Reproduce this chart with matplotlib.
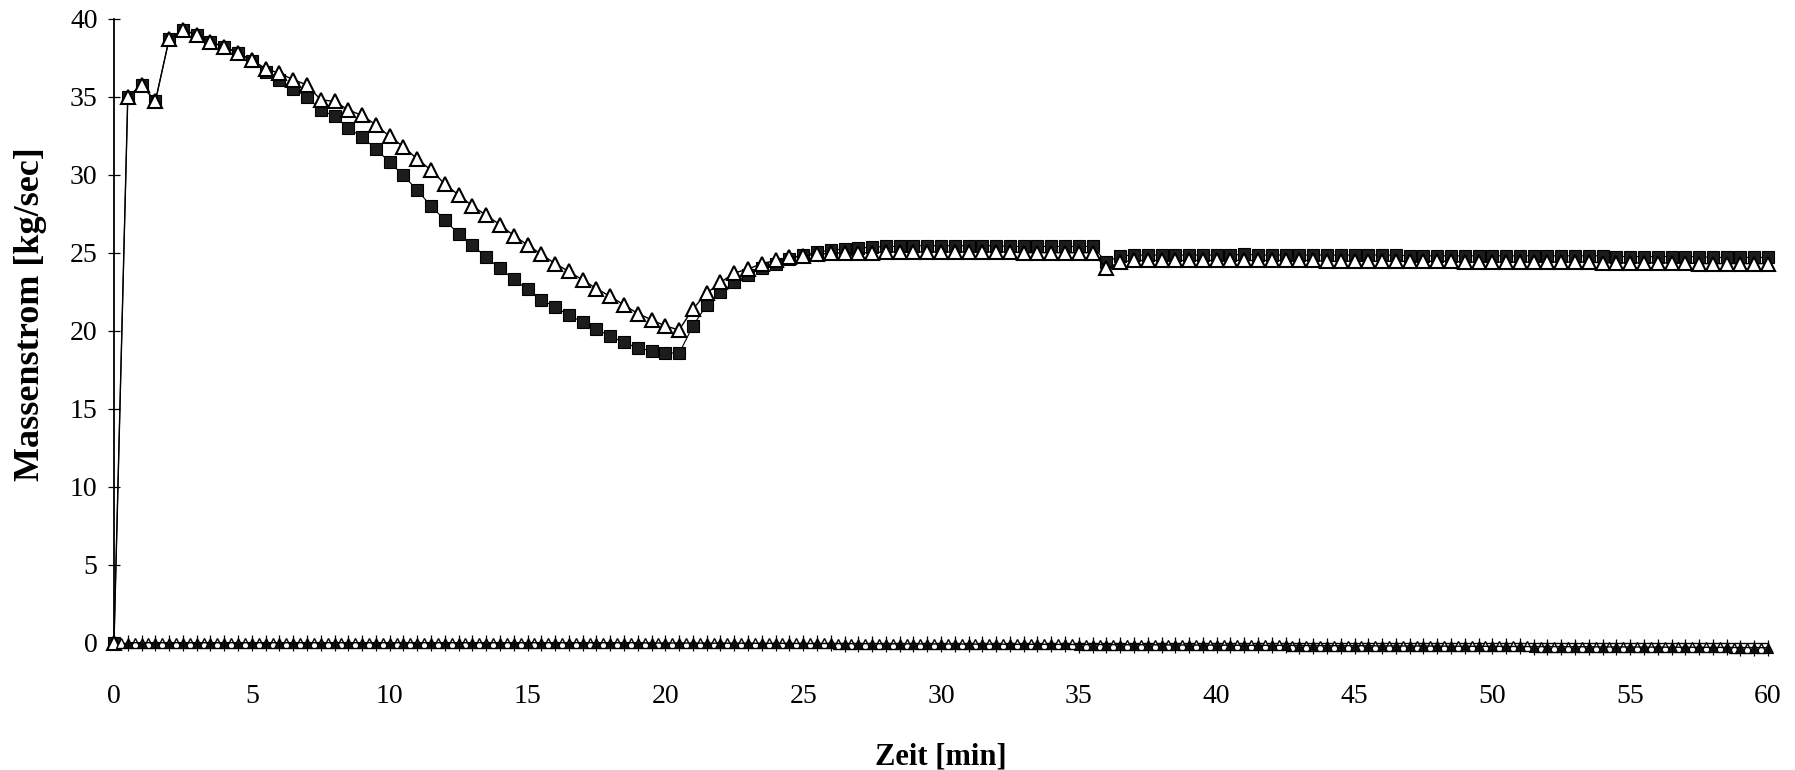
import numpy as np
import matplotlib
matplotlib.use("Agg")
import matplotlib.pyplot as plt

# Time grid in minutes (half-minute sampling)
zeit = np.arange(121) * 0.5

# Mass flow, first measurement series (filled squares)
massenstrom_a = [
    0.0, 35.0, 35.75, 34.7, 38.7, 39.3, 38.95, 38.5, 38.2, 37.8,
    37.3, 36.6, 36.1, 35.5, 35.0, 34.15, 33.75, 33.0, 32.4, 31.65,
    30.8, 29.95, 29.0, 28.0, 27.1, 26.2, 25.5, 24.7, 24.0, 23.3,
    22.65, 22.0, 21.5, 21.0, 20.55, 20.1, 19.65, 19.25, 18.9, 18.7,
    18.6, 18.55, 20.3, 21.65, 22.45, 23.1, 23.6, 24.0, 24.3, 24.6,
    24.85, 25.05, 25.15, 25.25, 25.3, 25.35, 25.4, 25.4, 25.45, 25.45,
    25.45, 25.45, 25.45, 25.45, 25.45, 25.4, 25.4, 25.4, 25.4, 25.4,
    25.4, 25.4, 24.4, 24.8, 24.85, 24.85, 24.85, 24.85, 24.85, 24.85,
    24.85, 24.85, 24.9, 24.85, 24.85, 24.85, 24.85, 24.85, 24.85, 24.85,
    24.85, 24.85, 24.85, 24.85, 24.8, 24.8, 24.8, 24.8, 24.8, 24.8,
    24.8, 24.8, 24.8, 24.8, 24.8, 24.8, 24.8, 24.8, 24.8, 24.75,
    24.75, 24.75, 24.75, 24.75, 24.75, 24.75, 24.7, 24.7, 24.7, 24.7,
    24.7,
]

# Mass flow, second measurement series (open triangles)
massenstrom_b = [
    0.0, 35.0, 35.75, 34.7, 38.7, 39.3, 38.95, 38.5, 38.2, 37.8,
    37.35, 36.8, 36.5, 36.1, 35.75, 34.8, 34.7, 34.15, 33.8, 33.2,
    32.45, 31.8, 31.0, 30.3, 29.4, 28.7, 28.0, 27.4, 26.8, 26.1,
    25.5, 24.9, 24.3, 23.8, 23.25, 22.7, 22.2, 21.65, 21.1, 20.7,
    20.3, 20.05, 21.4, 22.4, 23.1, 23.7, 23.95, 24.3, 24.5, 24.7,
    24.8, 24.9, 24.95, 25.0, 25.0, 25.0, 25.05, 25.05, 25.05, 25.05,
    25.05, 25.05, 25.05, 25.05, 25.05, 25.05, 25.0, 25.0, 25.0, 25.0,
    25.0, 25.0, 24.0, 24.4, 24.5, 24.5, 24.5, 24.5, 24.5, 24.5,
    24.5, 24.5, 24.5, 24.5, 24.5, 24.5, 24.5, 24.5, 24.45, 24.45,
    24.45, 24.45, 24.45, 24.45, 24.45, 24.45, 24.45, 24.45, 24.4, 24.4,
    24.4, 24.4, 24.4, 24.4, 24.4, 24.4, 24.4, 24.4, 24.35, 24.35,
    24.35, 24.35, 24.35, 24.35, 24.35, 24.3, 24.3, 24.3, 24.3, 24.3,
    24.3,
]

# Near-zero series (filled triangles at full half-minutes)
zeit_c = zeit[1:]
massenstrom_c = [
    0.0, 0.0, 0.0, 0.0, 0.0, 0.0, 0.0, 0.0, 0.0, 0.0,
    0.0, 0.0, 0.0, 0.0, 0.0, 0.0, 0.0, 0.0, 0.0, 0.0,
    0.0, 0.0, 0.0, 0.0, 0.0, 0.0, 0.0, 0.0, 0.0, 0.0,
    0.0, 0.0, 0.0, 0.0, 0.0, 0.0, 0.0, 0.0, -0.02, -0.02,
    -0.02, -0.02, -0.03, -0.03, -0.03, -0.03, -0.04, -0.04, -0.04, -0.05,
    -0.05, -0.05, -0.06, -0.06, -0.06, -0.07, -0.07, -0.07, -0.08, -0.08,
    -0.08, -0.09, -0.09, -0.09, -0.1, -0.1, -0.1, -0.11, -0.11, -0.12,
    -0.12, -0.12, -0.13, -0.13, -0.13, -0.14, -0.14, -0.15, -0.15, -0.15,
    -0.16, -0.16, -0.17, -0.17, -0.17, -0.18, -0.18, -0.19, -0.19, -0.19,
    -0.2, -0.2, -0.21, -0.21, -0.21, -0.22, -0.22, -0.23, -0.23, -0.23,
    -0.24, -0.24, -0.25, -0.25, -0.25, -0.26, -0.26, -0.27, -0.27, -0.27,
    -0.28, -0.28, -0.29, -0.29, -0.29, -0.3, -0.3, -0.31, -0.31, -0.32,
]

# Near-zero series (open triangles between the half-minutes)
zeit_d = zeit[:-1] + 0.25
massenstrom_d = [
    0.0, 0.0, 0.0, 0.0, 0.0, 0.0, 0.0, 0.0, 0.0, 0.0,
    0.0, 0.0, 0.0, 0.0, 0.0, 0.0, 0.0, 0.0, 0.0, 0.0,
    0.0, 0.0, 0.0, 0.0, 0.0, 0.0, 0.0, 0.0, 0.0, 0.0,
    0.0, 0.0, 0.0, 0.0, 0.0, 0.0, 0.0, 0.0, -0.01, -0.02,
    -0.02, -0.02, -0.03, -0.03, -0.03, -0.03, -0.04, -0.04, -0.04, -0.05,
    -0.05, -0.05, -0.06, -0.06, -0.06, -0.07, -0.07, -0.07, -0.08, -0.08,
    -0.08, -0.09, -0.09, -0.09, -0.1, -0.1, -0.1, -0.11, -0.11, -0.11,
    -0.12, -0.12, -0.13, -0.13, -0.13, -0.14, -0.14, -0.14, -0.15, -0.15,
    -0.16, -0.16, -0.16, -0.17, -0.17, -0.18, -0.18, -0.18, -0.19, -0.19,
    -0.2, -0.2, -0.2, -0.21, -0.21, -0.22, -0.22, -0.23, -0.23, -0.23,
    -0.24, -0.24, -0.24, -0.25, -0.25, -0.26, -0.26, -0.27, -0.27, -0.27,
    -0.28, -0.28, -0.29, -0.29, -0.29, -0.3, -0.3, -0.31, -0.31, -0.31,
]

x_ticks = [0, 5, 10, 15, 20, 25, 30, 35, 40, 45, 50, 55, 60]
y_ticks = [0, 5, 10, 15, 20, 25, 30, 35, 40]

plt.rcParams["font.family"] = ["Liberation Serif", "DejaVu Serif"]

fig = plt.figure(figsize=(17.95, 7.70), dpi=100)
ax = fig.add_axes([114 / 1795, 1 - 642.7 / 770, 1654 / 1795, 624 / 770])

ax.plot(zeit, massenstrom_a, color="black", lw=0.8, marker="s", ms=8.2,
        mfc="#1c1c1c", mec="#000000", mew=0.8, zorder=3, clip_on=False)
ax.plot(zeit, massenstrom_b, color="black", lw=1.0, marker="^", ms=10,
        mfc="white", mec="black", mew=1.5, zorder=4, clip_on=False)

ax.plot(zeit_d, massenstrom_d, color="black", lw=0.0, marker="^", ms=7.0,
        mfc="white", mec="black", mew=1.0, zorder=5, clip_on=False)
ax.plot(zeit_c, massenstrom_c, color="black", lw=1.0, marker="^", ms=7.0,
        mfc="#111111", mec="black", mew=0.8, zorder=5, clip_on=False)
ax.plot(zeit_c, massenstrom_c, ls="none", marker="|", ms=11, mec="black",
        mew=0.9, zorder=5, clip_on=False)

ax.set_xlim(0, 60)
ax.set_ylim(0, 40)
ax.set_xticks(x_ticks)
ax.set_yticks(y_ticks)
ax.set_xticklabels([str(v) for v in x_ticks])
ax.set_yticklabels([str(v) for v in y_ticks])

for side in ("top", "right"):
    ax.spines[side].set_visible(False)
ax.spines["left"].set_linewidth(1.3)
ax.spines["bottom"].set_linewidth(1.0)

ax.tick_params(axis="x", length=0, pad=30, labelsize=20)
ax.tick_params(axis="y", direction="inout", length=8.6, width=0.9,
               pad=7.5, labelsize=20)

ax.set_xlabel("Zeit [min]", fontsize=22, fontweight="bold")
ax.xaxis.set_label_coords(0.5, -0.16)
ax.set_ylabel("Massenstrom [kg/sec]", fontsize=26, fontweight="bold")
ax.yaxis.set_label_coords(-0.0405, 0.527)

fig.savefig("out.png", dpi=100, facecolor="white")
